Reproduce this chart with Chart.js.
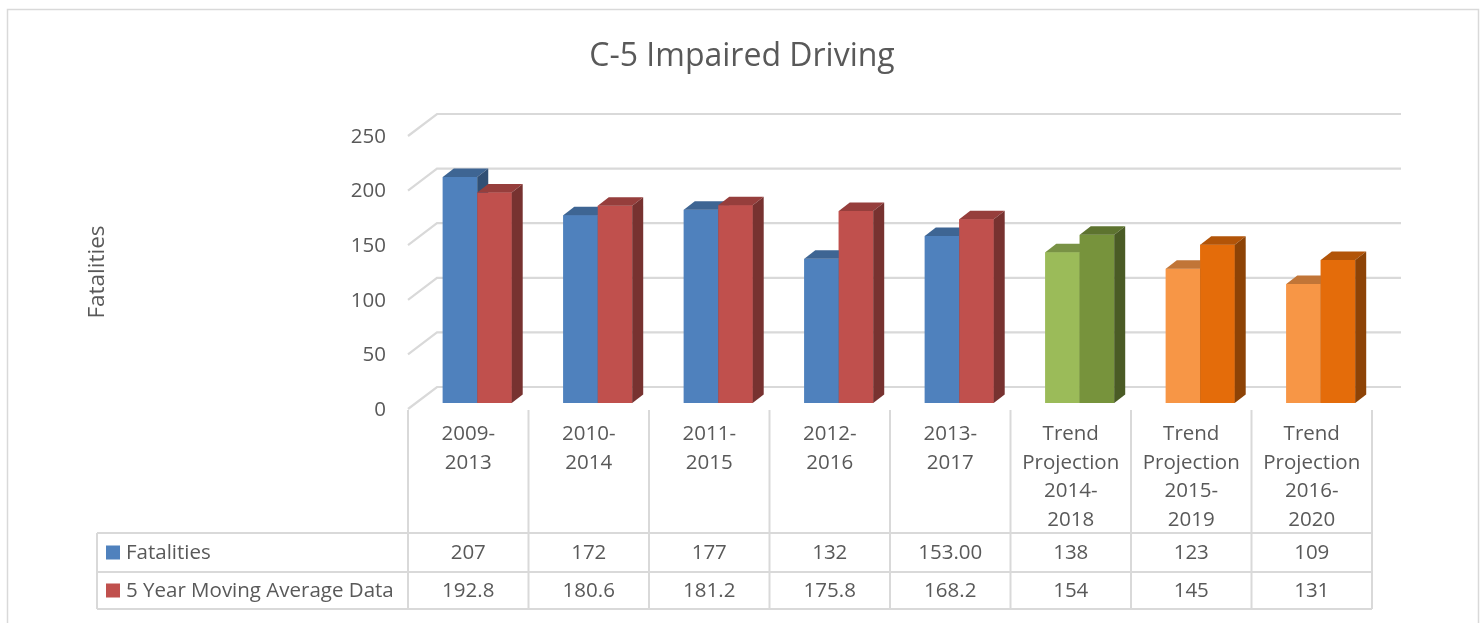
<!DOCTYPE html>
<html>
<head>
<meta charset="utf-8">
<script src="https://cdn.jsdelivr.net/npm/chart.js@4.4.1/dist/chart.umd.min.js"></script>
<style>
  html, body { margin: 0; padding: 0; background: #fff; }
  #wrap { width: 1482px; height: 623px; position: relative; }
</style>
</head>
<body>
<div id="wrap"><canvas id="chart" width="1482" height="623"></canvas></div>
<script>
// --- DATA ---
const chartTitle = 'C-5 Impaired Driving';
const yTitle = 'Fatalities';
const categories = [
  ['2009-', '2013'],
  ['2010-', '2014'],
  ['2011-', '2015'],
  ['2012-', '2016'],
  ['2013-', '2017'],
  ['Trend', 'Projection', '2014-', '2018'],
  ['Trend', 'Projection', '2015-', '2019'],
  ['Trend', 'Projection', '2016-', '2020']
];
const seriesNames = ['Fatalities', '5 Year Moving Average Data'];
const fatalities = [207, 172, 177, 132, 153, 138, 123, 109];
const movingAverage = [192.8, 180.6, 181.2, 175.8, 168.2, 154, 145, 131];
const fatalitiesText = ['207', '172', '177', '132', '153.00', '138', '123', '109'];
const movingAverageText = ['192.8', '180.6', '181.2', '175.8', '168.2', '154', '145', '131'];
const yTicks = [0, 50, 100, 150, 200, 250];

// colours per bar (actual, trend, projection)
const fatalColors = ['#4F81BD', '#4F81BD', '#4F81BD', '#4F81BD', '#4F81BD', '#9BBB59', '#F79646', '#F79646'];
const avgColors = ['#C0504D', '#C0504D', '#C0504D', '#C0504D', '#C0504D', '#77933C', '#E46C0A', '#E46C0A'];

const TEXT = '#595959';
const GRID = '#d9d9d9';
const FONT = '"Open Sans", sans-serif';

// 3D offsets
const DEPTH = { dx: 11, dy: -8.5 };      // bar top / side depth
const BACK = { dx: 20, dy: -16 };        // back wall relative to bar plane
const FRONT = { dx: -9, dy: 6 };         // front edge relative to bar plane

function shade(hex, f) {
  const n = parseInt(hex.slice(1), 16);
  const r = Math.round(((n >> 16) & 255) * f);
  const g = Math.round(((n >> 8) & 255) * f);
  const b = Math.round((n & 255) * f);
  return `rgb(${r},${g},${b})`;
}

const threeD = {
  id: 'threeD',
  beforeDatasetsDraw(chart) {
    const { ctx, chartArea: a, scales: { y } } = chart;
    ctx.save();
    ctx.strokeStyle = GRID;
    ctx.lineWidth = 2.2;
    yTicks.forEach((v) => {
      const py = y.getPixelForValue(v);
      ctx.beginPath();
      ctx.moveTo(a.left + FRONT.dx, py + FRONT.dy);
      ctx.lineTo(a.left + BACK.dx, py + BACK.dy);
      ctx.lineTo(a.right + BACK.dx, py + BACK.dy);
      ctx.stroke();
    });
    ctx.restore();
  },
  afterDatasetsDraw(chart) {
    const { ctx } = chart;
    const metas = [chart.getDatasetMeta(0), chart.getDatasetMeta(1)];
    const n = metas[0].data.length;
    ctx.save();
    for (let i = 0; i < n; i++) {
      metas.forEach((meta, d) => {
        const bar = meta.data[i];
        const col = chart.data.datasets[d].backgroundColor[i];
        const x0 = bar.x - bar.width / 2;
        const x1 = bar.x + bar.width / 2;
        const top = bar.y;
        const base = bar.base;
        // front
        ctx.fillStyle = col;
        ctx.fillRect(x0, top, x1 - x0, base - top);
        // top
        ctx.fillStyle = shade(col, 0.78);
        ctx.beginPath();
        ctx.moveTo(x0, top);
        ctx.lineTo(x1, top);
        ctx.lineTo(x1 + DEPTH.dx, top + DEPTH.dy);
        ctx.lineTo(x0 + DEPTH.dx, top + DEPTH.dy);
        ctx.closePath();
        ctx.fill();
        // side
        ctx.fillStyle = shade(col, 0.62);
        ctx.beginPath();
        ctx.moveTo(x1, top);
        ctx.lineTo(x1 + DEPTH.dx, top + DEPTH.dy);
        ctx.lineTo(x1 + DEPTH.dx, base + DEPTH.dy);
        ctx.lineTo(x1, base);
        ctx.closePath();
        ctx.fill();
      });
    }
    ctx.restore();
  },
  afterDraw(chart) {
    const { ctx, chartArea: a, scales: { y } } = chart;
    ctx.save();

    // outer frame
    ctx.strokeStyle = GRID;
    ctx.lineWidth = 1.5;
    ctx.strokeRect(7.5, 9.5, 1471, 700);

    // title
    ctx.fillStyle = TEXT;
    ctx.font = `32px ${FONT}`;
    ctx.textAlign = 'center';
    ctx.textBaseline = 'middle';
    ctx.fillText(chartTitle, 742, 57);

    // y axis title
    ctx.save();
    ctx.translate(98, 272);
    ctx.rotate(-Math.PI / 2);
    ctx.font = `22.5px ${FONT}`;
    ctx.fillText(yTitle, 0, 0);
    ctx.restore();

    // y tick labels
    ctx.font = `20.5px ${FONT}`;
    ctx.textAlign = 'right';
    yTicks.forEach((v) => {
      ctx.fillText(String(v), 386, y.getPixelForValue(v) + FRONT.dy + 1);
    });

    // data table
    const left = a.left + FRONT.dx;
    const right = a.right + FRONT.dx;
    const colW = (right - left) / categories.length;
    const floorY = y.getPixelForValue(0) + FRONT.dy + 1;
    const row1 = 533, row2 = 572, row3 = 609;
    const tableLeft = 97;

    ctx.strokeStyle = GRID;
    ctx.lineWidth = 2;
    ctx.beginPath();
    for (let i = 0; i <= categories.length; i++) {
      const x = left + colW * i;
      ctx.moveTo(x, floorY);
      ctx.lineTo(x, row3);
    }
    [row1, row2, row3].forEach((ry) => {
      ctx.moveTo(tableLeft, ry);
      ctx.lineTo(right, ry);
    });
    ctx.moveTo(tableLeft, row1);
    ctx.lineTo(tableLeft, row3);
    ctx.stroke();

    ctx.fillStyle = TEXT;
    ctx.font = `20.5px ${FONT}`;
    ctx.textAlign = 'center';
    categories.forEach((lines, i) => {
      const cx = left + colW * (i + 0.5);
      lines.forEach((t, k) => ctx.fillText(t, cx, 434 + k * 28.7));
      ctx.fillText(fatalitiesText[i], cx, (row1 + row2) / 2 + 1);
      ctx.fillText(movingAverageText[i], cx, (row2 + row3) / 2 + 1);
    });

    // legend keys in table
    ctx.textAlign = 'left';
    [[row1, row2, fatalColors[0]], [row2, row3, avgColors[0]]].forEach(([r0, r1, c], k) => {
      const cy = (r0 + r1) / 2;
      ctx.fillStyle = c;
      ctx.fillRect(106, cy - 7, 14, 14);
      ctx.fillStyle = TEXT;
      ctx.fillText(seriesNames[k], 126, cy + 1);
    });

    ctx.restore();
  }
};

new Chart(document.getElementById('chart'), {
  type: 'bar',
  data: {
    labels: categories,
    datasets: [
      { label: seriesNames[0], data: fatalities, backgroundColor: fatalColors, borderWidth: 0 },
      { label: seriesNames[1], data: movingAverage, backgroundColor: avgColors, borderWidth: 0 }
    ]
  },
  options: {
    responsive: false,
    animation: false,
    categoryPercentage: 0.572,
    barPercentage: 1.0,
    layout: { padding: { left: 417, right: 101, top: 130, bottom: 220 } },
    scales: {
      x: { display: false },
      y: { display: false, min: 0, max: 250 }
    },
    plugins: {
      legend: { display: false },
      tooltip: { enabled: false }
    }
  },
  plugins: [threeD]
});
</script>
</body>
</html>
